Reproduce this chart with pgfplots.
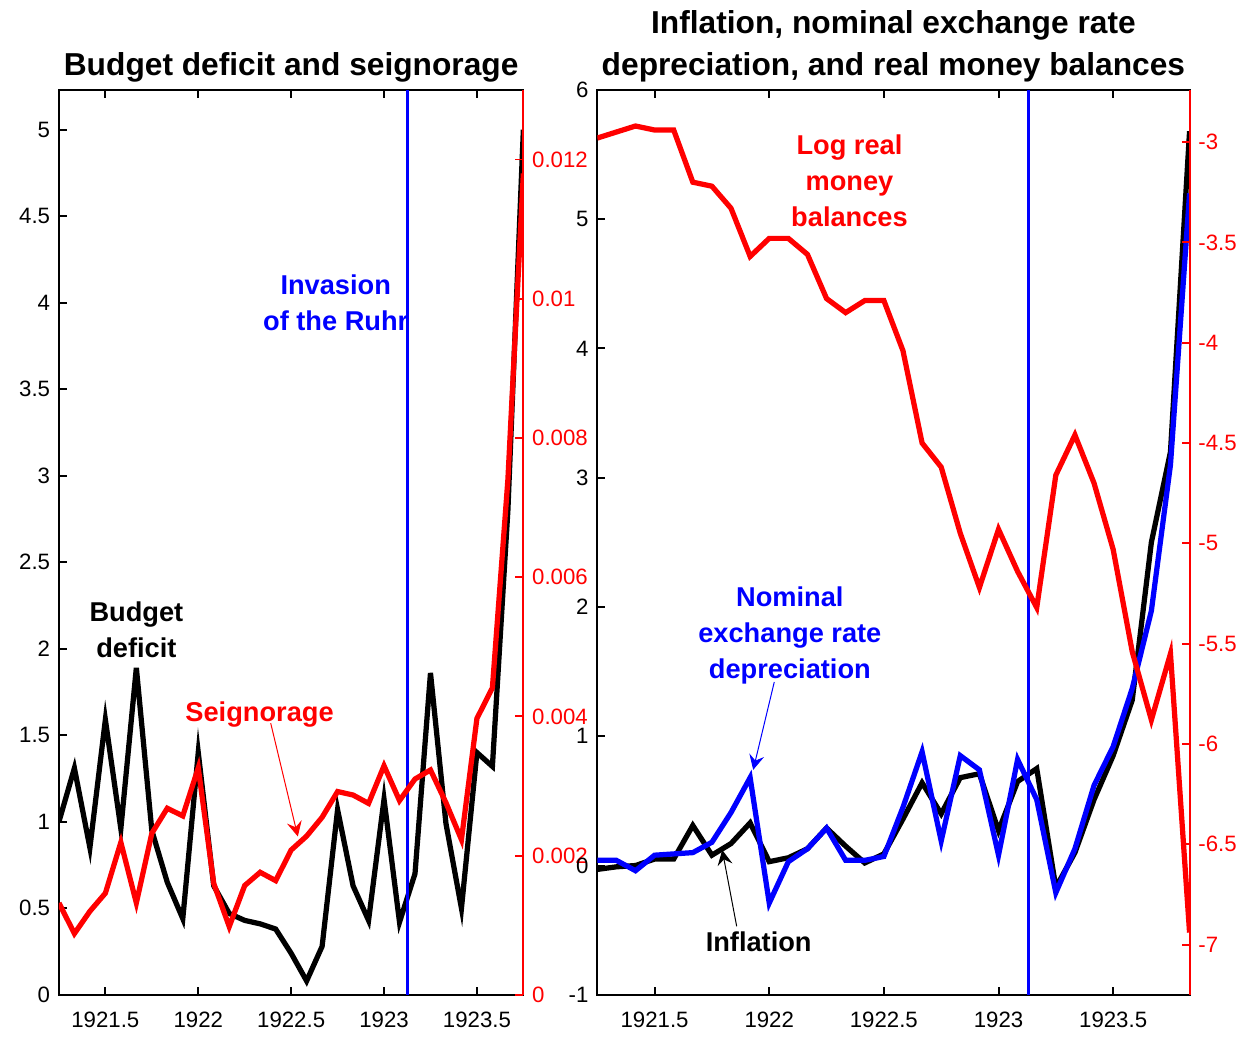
\documentclass[border=0pt]{standalone}
\usepackage{fontspec}
\setmainfont{Liberation Sans}
\usepackage{pgfplots}
\usepackage{pgfplotstable}
\pgfplotsset{compat=1.18}
\usetikzlibrary{arrows.meta}

% monthly data, 1921.25 = April 1921
\pgfplotstableread{
t         deficit seign
1921.25   1.00    0.00132
1921.3333 1.31    0.00088
1921.4167 0.85    0.00120
1921.5    1.59    0.00146
1921.5833 0.96    0.00219
1921.6667 1.89    0.00132
1921.75   0.95    0.00232
1921.8333 0.65    0.00268
1921.9167 0.44    0.00257
1922      1.40    0.00326
1922.0833 0.63    0.00160
1922.1667 0.47    0.00098
1922.25   0.43    0.00157
1922.3333 0.41    0.00176
1922.4167 0.38    0.00164
1922.5    0.24    0.00208
1922.5833 0.08    0.00228
1922.6667 0.28    0.00255
1922.75   1.07    0.00292
1922.8333 0.63    0.00287
1922.9167 0.43    0.00275
1923      1.13    0.00329
1923.0833 0.42    0.00279
1923.1667 0.70    0.00310
1923.25   1.86    0.00323
1923.3333 0.99    0.00276
1923.4167 0.50    0.00223
1923.5    1.40    0.00397
1923.5833 1.32    0.00441
1923.6667 2.80    0.00740
1923.75   5.00    0.01180
}\budgetdata

\pgfplotstableread{
t         infl   depr   logm
1921.25   -0.03  0.04   -2.98
1921.3333 -0.01  0.04   -2.95
1921.4167  0.00 -0.04   -2.92
1921.5     0.05  0.08   -2.94
1921.5833  0.05  0.09   -2.94
1921.6667  0.31  0.10   -3.20
1921.75    0.08  0.18   -3.22
1921.8333  0.17  0.41   -3.33
1921.9167  0.33  0.68   -3.57
1922       0.03 -0.29   -3.48
1922.0833  0.06  0.03   -3.48
1922.1667  0.13  0.13   -3.56
1922.25    0.29  0.29   -3.78
1922.3333  0.15  0.04   -3.85
1922.4167  0.02  0.04   -3.79
1922.5     0.09  0.07   -3.79
1922.5833  0.36  0.45   -4.04
1922.6667  0.64  0.88   -4.50
1922.75    0.40  0.19   -4.62
1922.8333  0.68  0.85   -4.95
1922.9167  0.71  0.74   -5.22
1923       0.27  0.08   -4.93
1923.0833  0.65  0.82   -5.14
1923.1667  0.75  0.51   -5.32
1923.25   -0.17 -0.21   -4.66
1923.3333  0.10  0.13   -4.46
1923.4167  0.51  0.62   -4.70
1923.5     0.85  0.92   -5.03
1923.5833  1.28  1.37   -5.54
1923.6667  2.50  1.97   -5.88
1923.75    3.20  3.10   -5.55
1923.8333  5.68  5.20   -6.94
}\inflationdata

\pgfplotsset{
  panel/.style={
    scale only axis, height=362.4pt, xmin=1921.25,
    tick align=inside, major tick length=3.2pt,
    axis line style={line width=0.8pt},
    every tick/.style={line width=0.8pt},
    tick label style={font=\fontsize{8.9}{10}\selectfont},
    xticklabel style={yshift=-3.5pt},
    scaled y ticks=false,
    xtick={1921.5,1922,1922.5,1923,1923.5},
    xticklabels={1921.5,1922,1922.5,1923,1923.5},
  },
  twin/.style={
    axis x line=none, axis y line=right,
    ytick pos=right, yticklabel pos=right, tick align=inside,
    y axis line style={-, red, line width=0.8pt},
    ytick style={red, line width=0.8pt},
    yticklabel style={red},
  },
  series/.style={line width=2.1pt},
}
\tikzset{
  note/.style={font=\bfseries\fontsize{10.9}{14.4}\selectfont, align=center},
  head/.style={line width=0.4pt, -{Stealth[length=6pt,width=6pt,inset=2.2pt]}},
  ttl/.style={font=\bfseries\fontsize{12.7}{15}\selectfont, anchor=base},
}

\begin{document}
\begin{tikzpicture}
\path (0,0) rectangle (498pt,414pt);

% left panel
\begin{axis}[panel, name=L, at={(23.6pt,15.6pt)}, width=186pt, xmax=1923.75,
  ymin=0, ymax=5.23, ytick pos=left,
  ytick={0,0.5,1,1.5,2,2.5,3,3.5,4,4.5,5},
  yticklabels={0,0.5,1,1.5,2,2.5,3,3.5,4,4.5,5}]
\addplot[series, black] table[x=t, y=deficit] {\budgetdata};
\addplot[blue, line width=1.1pt] coordinates {(1923.125,0) (1923.125,5.23)};
\node[note] at (axis cs:1921.667,2.11) {Budget\\deficit};
\node[note, red] at (axis cs:1922.33,1.62) {Seignorage};
\draw[head, red] (axis cs:1922.39,1.57) -- (axis cs:1922.536,0.915);
\node[note, blue] at (axis cs:1922.74,4.0) {Invasion\\of the Ruhr};
\end{axis}
\begin{axis}[panel, twin, at={(23.6pt,15.6pt)}, width=186pt, xmax=1923.75,
  ymin=0, ymax=0.013,
  ytick={0,0.002,0.004,0.006,0.008,0.01,0.012},
  yticklabels={0,0.002,0.004,0.006,0.008,0.01,0.012}]
\addplot[series, red] table[x=t, y=seign] {\budgetdata};
\end{axis}

% right panel
\begin{axis}[panel, name=R, at={(239.2pt,15.6pt)}, width=237.2pt, xmax=1923.8333,
  ymin=-1, ymax=6, ytick pos=left,
  ytick={-1,0,1,2,3,4,5,6},
  yticklabels={-1,0,1,2,3,4,5,6}]
\addplot[series, black] table[x=t, y=infl] {\inflationdata};
\addplot[series, blue] table[x=t, y=depr] {\inflationdata};
\addplot[blue, line width=1.1pt] coordinates {(1923.13,-1) (1923.13,6)};
\node[note, red] at (axis cs:1922.35,5.30) {Log real\\money\\balances};
\node[note, blue] at (axis cs:1922.09,1.78) {Nominal\\exchange rate\\depreciation};
\draw[head, blue] (axis cs:1922.022,1.42) -- (axis cs:1921.93,0.74);
\node[note] at (axis cs:1921.954,-0.59) {Inflation};
\draw[head, black] (axis cs:1921.858,-0.47) -- (axis cs:1921.795,0.12);
\end{axis}
\begin{axis}[panel, twin, at={(239.2pt,15.6pt)}, width=237.2pt, xmax=1923.8333,
  ymin=-7.25, ymax=-2.74,
  ytick={-7,-6.5,-6,-5.5,-5,-4.5,-4,-3.5,-3},
  yticklabels={-7,-6.5,-6,-5.5,-5,-4.5,-4,-3.5,-3}]
\addplot[series, red] table[x=t, y=logm] {\inflationdata};
\end{axis}

\node[ttl] at ([yshift=5.6pt]L.north) {Budget deficit and seignorage};
\node[ttl] at ([yshift=22.4pt]R.north) {Inflation, nominal exchange rate};
\node[ttl] at ([yshift=5.6pt]R.north) {depreciation, and real money balances};
\end{tikzpicture}
\end{document}
